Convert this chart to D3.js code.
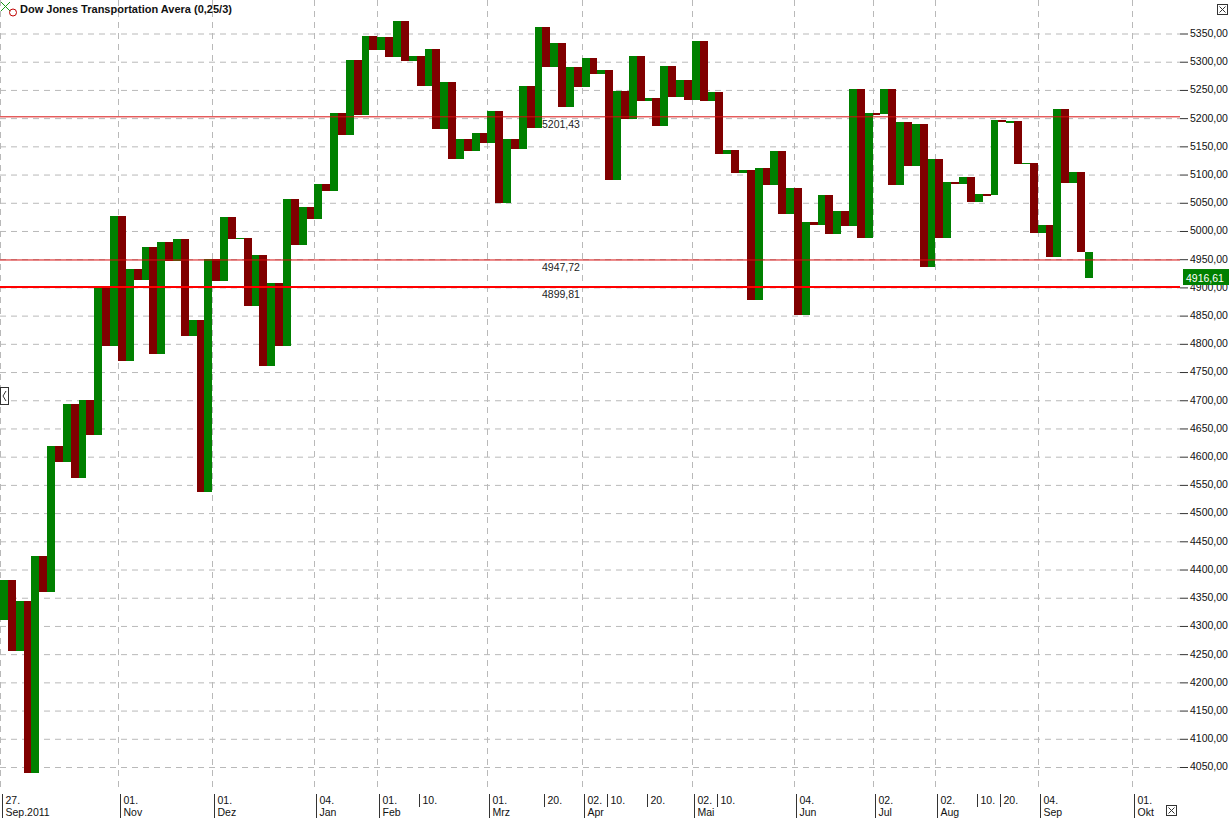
<!DOCTYPE html>
<html>
<head>
<meta charset="utf-8">
<script src="https://cdn.jsdelivr.net/npm/d3@7"></script>
<style>
    html, body { margin: 0; padding: 0; background: #fff; }
    svg { display: block; font-family: "Liberation Sans", Arial, sans-serif; }
</style>
</head>
<body>
<svg id="chart" width="1230" height="818"></svg>
<script>
var title = "Dow Jones Transportation Avera (0,25/3)";

// swing pivots: column i runs from pivots[i] to pivots[i + 1]
var pivots = [
    4310, 4380, 4254, 4343, 4039, 4423, 4360, 4618, 4589, 4693,
    4562, 4700, 4638, 4900, 4795, 5026, 4769, 4931, 4913, 4971,
    4781, 4980, 4946, 4985, 4813, 4842, 4536, 4949, 4911, 5024,
    4985, 4987, 4866, 4957, 4760, 4907, 4795, 5055, 4975, 5041,
    5021, 5083, 5070, 5208, 5170, 5303, 5205, 5345, 5319, 5343,
    5307, 5371, 5300, 5310, 5256, 5322, 5180, 5264, 5126, 5163,
    5140, 5172, 5155, 5212, 5049, 5163, 5145, 5256, 5182, 5360,
    5290, 5332, 5218, 5289, 5254, 5306, 5277, 5285, 5089, 5248,
    5198, 5310, 5229, 5235, 5186, 5292, 5236, 5267, 5231, 5335,
    5229, 5245, 5136, 5142, 5102, 5108, 4876, 5110, 5080, 5140,
    5030, 5075, 4851, 5015, 5009, 5062, 4993, 5034, 5008, 5251,
    4987, 5208, 5206, 5250, 5080, 5193, 5114, 5188, 4935, 5127,
    4986, 5086, 5083, 5094, 5051, 5064, 5062, 5195, 5192, 5194,
    5118, 5120, 4995, 5009, 4953, 5216, 5084, 5104, 4962, 4916.61
];

var yTicks = d3.range(4050, 5351, 50);

// date ticks sit on column boundaries
var dateIdx   = [0, 15, 27, 40, 48, 53, 62, 69, 74, 77, 82, 88, 91, 101, 111, 119, 124, 127, 132, 144];
var dateDay   = ["27.", "01.", "01.", "04.", "01.", "10.", "01.", "20.", "02.", "10.", "20.", "02.", "10.", "04.", "02.", "02.", "10.", "20.", "04.", "01."];
var dateMonth = ["Sep.2011", "Nov", "Dez", "Jan", "Feb", "", "Mrz", "", "Apr", "", "", "Mai", "", "Jun", "Jul", "Aug", "", "", "Sep", "Okt"];

var levels = [5201.43, 4947.72, 4899.81];
var levelWidth = [1, 1, 2];
var lastValue = 4916.61;

var svg = d3.select("#chart");
var plotRight = 1180;

var x = d3.scaleLinear().domain([0, 144]).range([0, 1132]);
var y = d3.scaleLinear().domain([4050, 5350]).range([766.5, 33]);

var loc = d3.formatLocale({decimal: ",", thousands: ".", grouping: [3], currency: ["", ""]});
var fmt = loc.format(".2f");

// horizontal grid
svg.append("g")
    .attr("transform", "translate(0,0)")
    .call(d3.axisRight(y).tickValues(yTicks).tickSize(plotRight).tickFormat(""))
    .call(function (g) {
        g.select(".domain").remove();
        g.selectAll("line").attr("stroke", "#b9b9b9").attr("stroke-dasharray", "6,5")
            .attr("transform", "translate(0,0.5)");
    });

// vertical grid at month starts
var majors = dateIdx.filter(function (d, i) { return dateMonth[i] !== ""; });
svg.append("g").selectAll("line")
    .data(majors)
    .join("line")
    .attr("x1", function (d) { return Math.round(x(d)) + 0.5; })
    .attr("x2", function (d) { return Math.round(x(d)) + 0.5; })
    .attr("y1", 0)
    .attr("y2", 792)
    .attr("stroke", "#b9b9b9")
    .attr("stroke-dasharray", "6,5");

// columns
var cols = d3.range(pivots.length - 1);
svg.append("g").selectAll("rect")
    .data(cols)
    .join("rect")
    .attr("x", function (i) { return x(i); })
    .attr("width", function (i) { return x(i + 1) - x(i); })
    .attr("y", function (i) { return y(Math.max(pivots[i], pivots[i + 1])); })
    .attr("height", function (i) {
        return Math.max(1.5, Math.abs(y(pivots[i]) - y(pivots[i + 1])));
    })
    .attr("fill", function (i) { return i % 2 === 0 ? "#008000" : "#800000"; })
    .attr("shape-rendering", "crispEdges");

// level lines
var lv = svg.append("g");
lv.selectAll("line")
    .data(levels)
    .join("line")
    .attr("x1", 0)
    .attr("x2", plotRight)
    .attr("y1", function (d) { return y(d); })
    .attr("y2", function (d) { return y(d); })
    .attr("stroke", function (d, i) { return i === 2 ? "#ff0000" : "#d81010"; })
    .attr("stroke-width", function (d, i) { return levelWidth[i]; });
lv.selectAll("text")
    .data(levels)
    .join("text")
    .attr("x", 542)
    .attr("y", function (d) { return y(d) + 11; })
    .attr("font-size", "10.5px")
    .attr("fill", "#222")
    .text(function (d) { return fmt(d); });

// right axis
svg.append("g")
    .attr("transform", "translate(" + plotRight + ",0)")
    .call(d3.axisRight(y).tickValues(yTicks).tickSize(8).tickPadding(2).tickFormat(fmt))
    .call(function (g) {
        g.select(".domain").remove();
        g.selectAll("line").attr("stroke", "#333").attr("transform", "translate(0,0.5)");
        g.selectAll("text").attr("font-size", "10.5px").attr("fill", "#111")
            .attr("font-family", "'Liberation Sans', Arial, sans-serif");
    });

// last value box
svg.append("rect")
    .attr("x", 1183).attr("y", y(lastValue) - 8.5)
    .attr("width", 46).attr("height", 16)
    .attr("fill", "#008000");
svg.append("text")
    .attr("x", 1186).attr("y", y(lastValue) + 4)
    .attr("font-size", "10.5px").attr("fill", "#fff")
    .text(fmt(lastValue));

// bottom date axis
var xa = svg.append("g").selectAll("g")
    .data(dateIdx)
    .join("g")
    .attr("transform", function (d) { return "translate(" + (Math.round(x(d)) + 2.5) + ",0)"; });
xa.append("line")
    .attr("y1", 794)
    .attr("y2", function (d, i) { return dateMonth[i] ? 818 : 807; })
    .attr("stroke", "#333");
xa.append("text")
    .attr("x", 3).attr("y", 804)
    .attr("font-size", "10.5px").attr("fill", "#111")
    .text(function (d, i) { return dateDay[i]; });
xa.append("text")
    .attr("x", 3).attr("y", 816)
    .attr("font-size", "10.5px").attr("fill", "#111")
    .text(function (d, i) { return dateMonth[i]; });

// title and icon
svg.append("line").attr("x1", 1).attr("y1", 2).attr("x2", 10).attr("y2", 11).attr("stroke", "#1a9a1a");
svg.append("line").attr("x1", 10).attr("y1", 2).attr("x2", 1).attr("y2", 11).attr("stroke", "#1a9a1a");
svg.append("circle").attr("cx", 13).attr("cy", 12.5).attr("r", 3.5)
    .attr("fill", "none").attr("stroke", "#c00000");
svg.append("text")
    .attr("x", 20).attr("y", 13)
    .attr("font-size", "11px").attr("font-weight", "bold").attr("fill", "#111")
    .text(title);

// small window buttons
function closeBox(bx, by) {
    var b = svg.append("g").attr("transform", "translate(" + bx + "," + by + ")");
    b.append("rect").attr("x", 0.5).attr("y", 0.5).attr("width", 10).attr("height", 10)
        .attr("fill", "#fff").attr("stroke", "#333");
    b.append("path").attr("d", "M2.5,2.5L8.5,8.5M8.5,2.5L2.5,8.5").attr("stroke", "#333");
}
closeBox(1217, 4);
closeBox(1166, 805);

var lb = svg.append("g").attr("transform", "translate(0,387)");
lb.append("rect").attr("x", 0.5).attr("y", 0.5).attr("width", 8).attr("height", 17)
    .attr("fill", "#fff").attr("stroke", "#333");
lb.append("path").attr("d", "M6,4L3,9L6,14").attr("fill", "none").attr("stroke", "#333");
</script>
</body>
</html>
